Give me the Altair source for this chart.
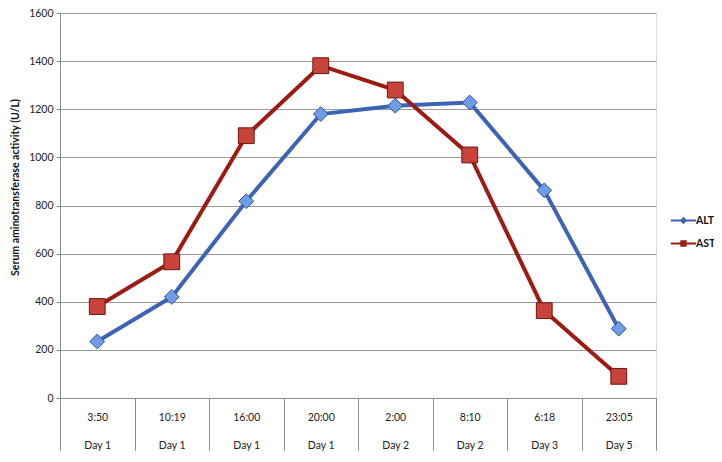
import altair as alt
import pandas as pd

times = ["3:50", "10:19", "16:00", "20:00", "2:00", "8:10", "6:18", "23:05"]
days = ["Day 1", "Day 1", "Day 1", "Day 1", "Day 2", "Day 2", "Day 3", "Day 5"]
alt_values = [235, 420, 818, 1180, 1215, 1228, 863, 288]
ast_values = [380, 566, 1090, 1381, 1280, 1010, 363, 90]
series_names = ["ALT", "AST"]
y_ticks = [0, 200, 400, 600, 800, 1000, 1200, 1400, 1600]

slots = [f"{t}|{d}" for t, d in zip(times, days)]
rows = []
for s, v in zip(slots, alt_values):
    rows.append({"slot": s, "series": "ALT", "value": v})
for s, v in zip(slots, ast_values):
    rows.append({"slot": s, "series": "AST", "value": v})
df = pd.DataFrame(rows)

FONT = "Lato"
BLUE = "#3d64b4"
RED = "#9e1b12"
line_colors = [BLUE, RED]

x_enc = alt.X(
    "slot:N",
    scale=alt.Scale(type="band", domain=slots, paddingInner=0, paddingOuter=0),
    axis=alt.Axis(
        title=None,
        labelExpr="isValid(datum.value) && !datum.extra ? split(datum.value, '|') : ''",
        labelAngle=0,
        labelLineHeight=28,
        labelFontSize=10.5,
        labelColor="#222222",
        labelFont=FONT,
        tickBand="extent",
        tickSize=60,
        tickColor="#8c8c8c",
        tickWidth=1,
        labelPadding=-46,
        domainColor="#8c8c8c",
        grid=False,
    ),
)
y_enc = alt.Y(
    "value:Q",
    scale=alt.Scale(domain=[0, 1600], nice=False),
    axis=alt.Axis(
        title="Serum aminotransferase activity (U/L)",
        titleFont="Liberation Sans Narrow, Lato",
        titleFontSize=10.5,
        titleFontWeight="bold",
        titleColor="#111111",
        titlePadding=8,
        titleY=174,
        values=y_ticks,
        format="d",
        labelFont=FONT,
        labelFontSize=10.5,
        labelColor="#222222",
        labelPadding=3,
        tickSize=4,
        tickColor="#8c8c8c",
        domainColor="#8c8c8c",
        gridColor="#9a9a9a",
        grid=True,
    ),
)

base = alt.Chart(df)

lines = base.mark_line(strokeWidth=4).encode(
    x=x_enc,
    y=y_enc,
    color=alt.Color(
        "series:N",
        scale=alt.Scale(domain=series_names, range=line_colors),
        legend=None,
    ),
)

alt_points = base.transform_filter(alt.datum.series == "ALT").mark_point(
    shape="diamond", filled=True, fill="#6f9ce4", stroke="#2c52a0",
    strokeWidth=1, size=220, opacity=1,
).encode(x=x_enc, y=y_enc)

ast_points = base.transform_filter(alt.datum.series == "AST").mark_point(
    shape="square", filled=True, fill="#c8433a", stroke="#6e140c",
    strokeWidth=1, size=250, opacity=1,
).encode(x=x_enc, y=y_enc)

# legend glyphs: a short line (thin filled bar) with the series marker on it
alt_path = "M-1.15,-0.1H1.15V0.1H-1.15Z M0,-0.34L0.34,0L0,0.34L-0.34,0Z"
ast_path = "M-1.15,-0.1H1.15V0.1H-1.15Z M-0.29,-0.29H0.29V0.29H-0.29Z"


def legend_entry(name, path, color, ypos):
    leg = alt.Legend(
        title=None,
        orient="none",
        legendX=612,
        legendY=ypos,
        padding=0,
        symbolSize=484,
        symbolStrokeWidth=1,
        symbolOpacity=1,
        symbolFillColor=color,
        symbolStrokeColor=color,
        labelFont="Liberation Sans Narrow, Lato",
        labelFontSize=10.5,
        labelFontWeight="bold",
        labelColor="#111111",
        labelOffset=1,
    )
    return base.transform_filter(alt.datum.series == name).mark_point(
        filled=True, fill=color, stroke=color, strokeWidth=1, opacity=0
    ).encode(
        shape=alt.Shape(
            "series:N",
            scale=alt.Scale(domain=[name], range=[path]),
            legend=leg,
        ),
    )


leg_alt = legend_entry("ALT", alt_path, BLUE, 196)
leg_ast = legend_entry("AST", ast_path, RED, 219)

chart = alt.layer(lines, alt_points, ast_points, leg_alt, leg_ast).resolve_scale(
    shape="independent"
).properties(
    width=596,
    height=385,
    autosize=alt.AutoSizeParams(type="none"),
    padding={"left": 52, "top": 5, "right": 58, "bottom": 53},
).configure_view(stroke=None).configure(background="white")

chart.save("out.html", embed_options={"renderer": "svg", "actions": False})
